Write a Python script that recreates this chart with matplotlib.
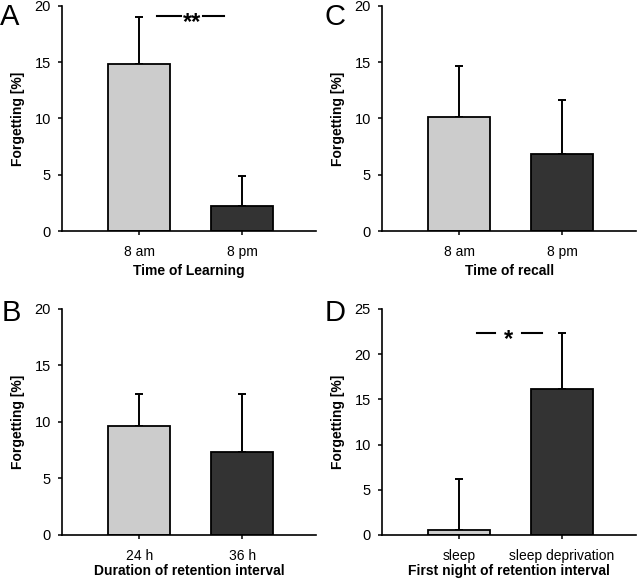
import numpy as np
import matplotlib
matplotlib.use('Agg')
import matplotlib.pyplot as plt

plt.rcParams['font.family'] = ['Liberation Sans', 'DejaVu Sans']

# Data
labels_A = ['8 am', '8 pm']
means_A = [14.8, 2.2]
err_A = [4.2, 2.7]

labels_C = ['8 am', '8 pm']
means_C = [10.15, 6.8]
err_C = [4.5, 4.8]

labels_B = ['24 h', '36 h']
means_B = [9.65, 7.3]
err_B = [2.8, 5.2]

labels_D = ['sleep', 'sleep deprivation']
means_D = [0.5, 16.2]
err_D = [5.7, 6.1]

bar_colors = ['#cccccc', '#333333']

fig = plt.figure(figsize=(6.4, 5.81), dpi=100)

# letter, labels, means, errors, xlabel, ymax, axes rect, significance, letter position (fig px), xlabel pad
panels = [
	('A', labels_A, means_A, err_A, 'Time of Learning', 20, [0.097, 0.6024, 0.397, 0.3873], '**', (0, 17), 4),
	('C', labels_C, means_C, err_C, 'Time of recall', 20, [0.597, 0.6024, 0.397, 0.3873], None, (325, 17), 4),
	('B', labels_B, means_B, err_B, 'Duration of retention interval', 20, [0.097, 0.0792, 0.397, 0.389], None, (2, 313), 1),
	('D', labels_D, means_D, err_D, 'First night of retention interval', 25, [0.597, 0.0792, 0.397, 0.389], '*', (325, 313), 1),
]

for letter, labs, means, errs, xlabel, ymax, rect, sig, lpos, xpad in panels:
	ax = fig.add_axes(rect)
	x = np.arange(len(means))
	ax.bar(x, means, width=0.6, color=bar_colors, edgecolor='black', linewidth=1.3, zorder=2)
	ax.errorbar(x, means, yerr=[np.zeros(len(errs)), errs], fmt='none', ecolor='black',
				elinewidth=1.4, capsize=3, capthick=1.4, zorder=1)
	ax.set_xlim(-0.75, 1.72)
	ax.set_ylim(0, ymax)
	ax.set_yticks(np.arange(0, ymax + 1, 5))
	ax.set_xticks(x)
	ax.set_xticklabels(labs, fontsize=10)
	ax.tick_params(axis='y', labelsize=10.5, direction='out', length=3, width=1.1, pad=5)
	ax.tick_params(axis='x', direction='out', length=3, width=1.1, pad=7)
	for s in ['top', 'right']:
		ax.spines[s].set_visible(False)
	for s in ['left', 'bottom']:
		ax.spines[s].set_linewidth(1.2)
	ax.set_ylabel('Forgetting [%]', fontsize=10, fontweight='bold', labelpad=7)
	ax.set_xlabel(xlabel, fontsize=10, fontweight='bold', labelpad=xpad)
	fig.text(lpos[0] / 640, 1 - lpos[1] / 581, letter, fontsize=21, va='center', ha='left')

	if sig == '**':
		yy = 19.1
		ax.plot([0.175, 0.41], [yy, yy], color='black', lw=1.5, clip_on=False)
		ax.plot([0.62, 0.82], [yy, yy], color='black', lw=1.5, clip_on=False)
		ax.text(0.515, yy - 0.55, '**', ha='center', va='center', fontsize=17, fontweight='bold')
	elif sig == '*':
		yy = 22.35
		ax.plot([0.175, 0.35], [yy, yy], color='black', lw=1.5, clip_on=False)
		ax.plot([0.61, 0.80], [yy, yy], color='black', lw=1.5, clip_on=False)
		ax.text(0.48, yy - 0.7, '*', ha='center', va='center', fontsize=17, fontweight='bold')

fig.savefig('out.png', dpi=100)
